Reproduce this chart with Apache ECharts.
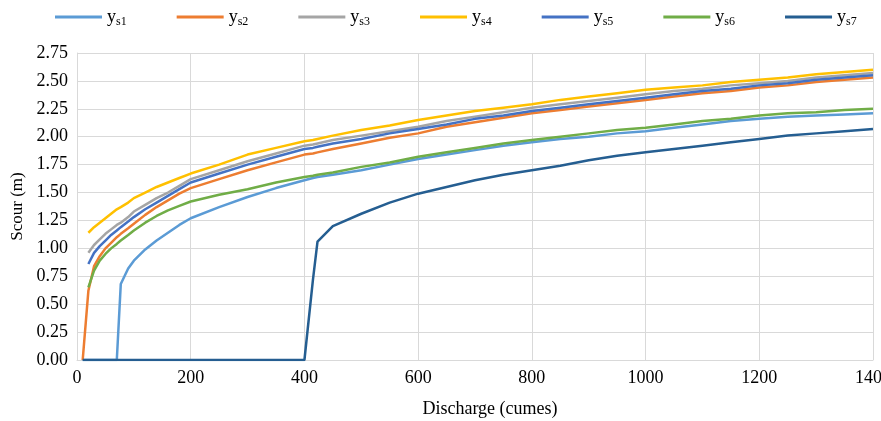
<!DOCTYPE html>
<html>
<head>
<meta charset="utf-8">
<title>Scour vs discharge</title>
<script src="https://cdn.jsdelivr.net/npm/echarts@6/dist/echarts.min.js"></script>
<style>
    html, body { margin: 0; padding: 0; background: #fff; }
    #chart { width: 881px; height: 421px; }
</style>
</head>
<body>
<div id="chart"></div>
<script>
    // discharge values (cumes) shared by all series
    var discharge = [10, 20, 30, 40, 50, 60, 70, 77, 90, 100, 120, 140, 160, 180, 200, 250, 300, 350, 400, 415, 423,
        450, 500, 550, 600, 650, 700, 750, 800, 850, 900, 950, 1000, 1050, 1100, 1150, 1200, 1250, 1300, 1350, 1400];

    var ys1 = [0, 0, 0, 0, 0, 0, 0, 0.68, 0.82, 0.89, 0.99, 1.07, 1.14, 1.21, 1.27, 1.37, 1.46, 1.54, 1.61, 1.63, 1.64,
        1.66, 1.70, 1.75, 1.80, 1.84, 1.88, 1.92, 1.95, 1.98, 2.00, 2.03, 2.05, 2.08, 2.11, 2.14, 2.16, 2.18, 2.19, 2.20, 2.21];
    var ys2 = [0, 0.62, 0.84, 0.93, 1.00, 1.05, 1.10, 1.13, 1.18, 1.22, 1.30, 1.37, 1.43, 1.49, 1.54, 1.62, 1.70, 1.77, 1.84, 1.85, 1.86,
        1.89, 1.94, 1.99, 2.03, 2.09, 2.13, 2.17, 2.21, 2.24, 2.27, 2.30, 2.33, 2.36, 2.39, 2.41, 2.44, 2.46, 2.49, 2.51, 2.53];
    var ys3 = [null, 0.96, 1.03, 1.08, 1.13, 1.17, 1.21, 1.23, 1.28, 1.33, 1.39, 1.45, 1.50, 1.56, 1.62, 1.70, 1.78, 1.85, 1.92, 1.93, 1.94,
        1.97, 2.01, 2.05, 2.09, 2.14, 2.18, 2.22, 2.26, 2.29, 2.32, 2.35, 2.38, 2.41, 2.43, 2.46, 2.48, 2.50, 2.53, 2.55, 2.57];
    var ys4 = [null, 1.14, 1.19, 1.23, 1.27, 1.31, 1.35, 1.37, 1.41, 1.45, 1.50, 1.55, 1.59, 1.63, 1.67, 1.75, 1.84, 1.90, 1.96, 1.97, 1.98,
        2.01, 2.06, 2.10, 2.15, 2.19, 2.23, 2.26, 2.29, 2.33, 2.36, 2.39, 2.42, 2.44, 2.46, 2.49, 2.51, 2.53, 2.56, 2.58, 2.60];
    var ys5 = [null, 0.86, 0.96, 1.02, 1.07, 1.12, 1.16, 1.19, 1.24, 1.28, 1.35, 1.41, 1.47, 1.53, 1.59, 1.67, 1.75, 1.82, 1.89, 1.90, 1.91,
        1.94, 1.98, 2.03, 2.07, 2.11, 2.16, 2.19, 2.23, 2.26, 2.29, 2.32, 2.35, 2.38, 2.41, 2.43, 2.46, 2.48, 2.51, 2.53, 2.55];
    var ys6 = [null, 0.65, 0.80, 0.89, 0.95, 1.00, 1.04, 1.07, 1.12, 1.16, 1.23, 1.29, 1.34, 1.38, 1.42, 1.48, 1.53, 1.59, 1.64, 1.65, 1.66,
        1.68, 1.73, 1.77, 1.82, 1.86, 1.90, 1.94, 1.97, 2.00, 2.03, 2.06, 2.08, 2.11, 2.14, 2.16, 2.19, 2.21, 2.22, 2.24, 2.25];
    var ys7 = [0, 0, 0, 0, 0, 0, 0, 0, 0, 0, 0, 0, 0, 0, 0, 0, 0, 0, 0, 0.72, 1.06,
        1.20, 1.31, 1.41, 1.49, 1.55, 1.61, 1.66, 1.70, 1.74, 1.79, 1.83, 1.86, 1.89, 1.92, 1.95, 1.98, 2.01, 2.03, 2.05, 2.07];

    var seriesNames = ['ys1', 'ys2', 'ys3', 'ys4', 'ys5', 'ys6', 'ys7'];
    var seriesValues = [ys1, ys2, ys3, ys4, ys5, ys6, ys7];
    var colors = ['#5B9BD5', '#ED7D31', '#A5A5A5', '#FFC000', '#4472C4', '#70AD47', '#255E91'];

    var font = '"Liberation Serif", "Times New Roman", serif';

    function pairs(values) {
        var out = [];
        discharge.forEach(function (x, i) {
            out.push([x, values[i]]);
        });
        return out;
    }

    var chart = echarts.init(document.getElementById('chart'));
    chart.setOption({
        animation: false,
        color: colors,
        textStyle: { fontFamily: font },
        legend: {
            left: 50,
            top: 3,
            itemWidth: 47,
            itemHeight: 3,
            itemGap: 50,
            icon: 'rect',
            data: seriesNames,
            formatter: function (name) {
                return '{a|y}{b|' + name.substring(1) + '}';
            },
            textStyle: {
                fontFamily: font,
                color: '#000',
                rich: {
                    a: { fontFamily: font, fontSize: 18, color: '#000' },
                    b: { fontFamily: font, fontSize: 12, color: '#000', padding: [9, 0, 0, 0] }
                }
            }
        },
        grid: {
            left: 77,
            right: 8,
            top: 53,
            bottom: 61,
            outerBoundsMode: 'none'
        },
        xAxis: {
            type: 'value',
            min: 0,
            max: 1400,
            interval: 200,
            name: 'Discharge (cumes)',
            nameLocation: 'middle',
            nameGap: 40,
            nameTextStyle: { fontFamily: font, fontSize: 18, color: '#000', padding: [0, 0, 0, 30] },
            axisLine: { show: true, lineStyle: { color: '#d9d9d9' } },
            axisTick: { show: false },
            axisLabel: {
                fontFamily: font, fontSize: 18, color: '#000', margin: 9,
                formatter: function (v) { return String(v); }
            },
            splitLine: { show: true, lineStyle: { color: '#d9d9d9', width: 1 } }
        },
        yAxis: {
            type: 'value',
            min: 0,
            max: 2.75,
            interval: 0.25,
            name: 'Scour (m)',
            nameLocation: 'middle',
            nameGap: 50,
            nameTextStyle: { fontFamily: font, fontSize: 17, color: '#000' },
            axisLine: { show: true, lineStyle: { color: '#d9d9d9' } },
            axisTick: { show: false },
            axisLabel: {
                fontFamily: font, fontSize: 18, color: '#000', margin: 9,
                formatter: function (v) { return v.toFixed(2); }
            },
            splitLine: { show: true, lineStyle: { color: '#d9d9d9', width: 1 } }
        },
        series: seriesNames.map(function (name, i) {
            return {
                name: name,
                type: 'line',
                showSymbol: false,
                symbol: 'none',
                data: pairs(seriesValues[i]),
                lineStyle: { width: 2.5, color: colors[i] },
                itemStyle: { color: colors[i] },
                z: 2 + i
            };
        })
    });
</script>
</body>
</html>
